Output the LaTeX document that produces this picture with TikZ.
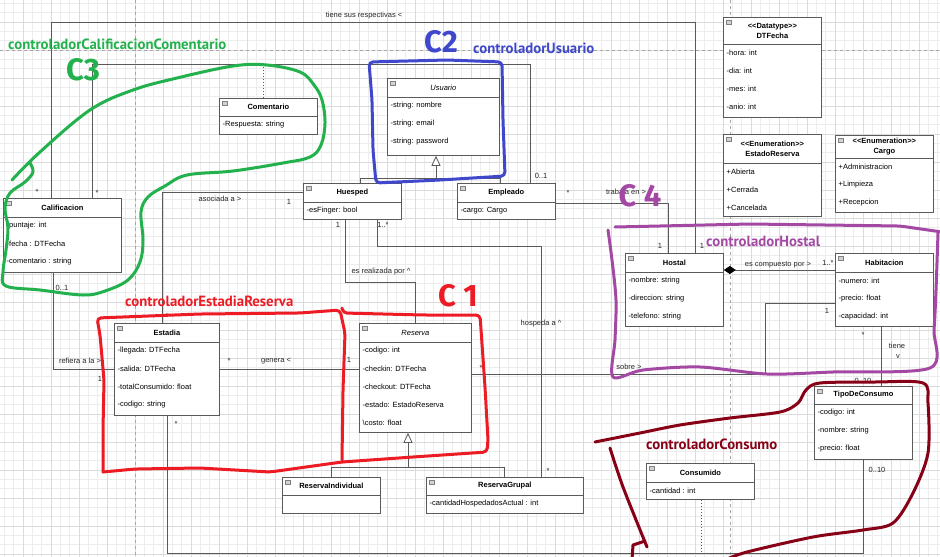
\documentclass[tikz,border=0pt]{standalone}
\usepackage{fontspec}
\setmainfont{Liberation Sans}
\newfontfamily\paintfont{PT Sans}
\newfontfamily\handfont{Fira Sans}
\usetikzlibrary{arrows.meta}
\definecolor{umlgray}{HTML}{5A5A5A}
\definecolor{paintgreen}{HTML}{22B14C}
\definecolor{paintblue}{HTML}{3F48CC}
\definecolor{paintred}{HTML}{ED1C24}
\definecolor{paintpurple}{HTML}{A349A4}
\definecolor{paintmaroon}{HTML}{880015}

% class box: name, x, y, width, header height, height, title, attributes
\newcommand{\umlclass}[8]{%
  \node[classbox,minimum width=#4pt,minimum height=#6pt] (#1) at (#2,#3) {};
  \draw[assoc] ([yshift=-#5pt]#1.north west) -- ([yshift=-#5pt]#1.north east);
  \node[boxicon] at ([xshift=5.5pt,yshift=-5.5pt]#1.north west) {};
  \node[classtitle] at ([yshift={-0.5*#5pt}]#1.north) {#7};
  \foreach \attr [count=\k] in {#8} {%
    \node[attr] at ([xshift=3.5pt,yshift={-(#5+18*\k-9)*1pt}]#1.north west) {\attr};}%
}

\begin{document}
\begin{tikzpicture}[x=1pt,y=-1pt,
    classbox/.style={draw=umlgray,fill=white,line width=0.8pt,rectangle,anchor=north west,inner sep=0pt},
    boxicon/.style={draw=gray,fill=gray!35,line width=0.4pt,minimum width=5pt,minimum height=4pt,inner sep=0pt},
    classtitle/.style={font=\fontsize{7.5}{10}\selectfont,align=center,inner sep=0pt},
    attr/.style={font=\fontsize{7.5}{9}\selectfont,anchor=west,inner sep=0pt},
    lbl/.style={font=\fontsize{7.5}{9}\selectfont,inner sep=0pt,text=black!85},
    assoc/.style={draw=umlgray,line width=0.8pt},
    gen/.style={assoc,-{Triangle[length=10pt,width=9pt,fill=white]}},
    dotline/.style={draw=umlgray,line width=0.6pt,dash pattern=on 1.5pt off 1.5pt},
    gridminor/.style={draw=black!7,line width=0.5pt},
    gridmajor/.style={draw=black!14,line width=0.5pt},
    pagebreak/.style={draw=black!35,line width=0.6pt,dash pattern=on 3pt off 3pt},
    freehand/.style={line width=3pt,line cap=round,line join=round},
    ctrllabel/.style={font=\paintfont\bfseries\fontsize{14.8}{15}\selectfont,inner sep=0pt,anchor=west},
    handlabel/.style={font=\handfont\bfseries\fontsize{31}{31}\selectfont,inner sep=0pt}]

  \useasboundingbox (0,0) rectangle (940,557);
  \fill[white] (0,0) rectangle (940,557);

  % background grid and page breaks
  \foreach \gi in {0,...,101} \draw[gridminor] ({-5+\gi*28/3},0) -- ({-5+\gi*28/3},557);
  \foreach \gi in {0,...,60} \draw[gridminor] (0,{-6+\gi*28/3}) -- (940,{-6+\gi*28/3});
  \foreach \gi in {0,...,34} \draw[gridmajor] ({-5+28*\gi},0) -- ({-5+28*\gi},557);
  \foreach \gi in {0,...,20} \draw[gridmajor] (0,{-6+28*\gi}) -- (940,{-6+28*\gi});
  \draw[pagebreak] (135,0) -- (135,557);
  \draw[pagebreak] (730,0) -- (730,557);
  \draw[pagebreak] (0,50) -- (940,50);

  % classes
  \umlclass{usuario}{387}{78}{112}{19}{77}{\itshape Usuario}{-string: nombre,-string: email,-string: password}
  \umlclass{huesped}{303}{183}{98}{19}{36}{\textbf{Huesped}}{-esFinger: bool}
  \umlclass{empleado}{457}{183}{98}{19}{36}{\textbf{Empleado}}{-cargo: Cargo}
  \umlclass{comentario}{219}{98}{98}{18}{36}{\textbf{Comentario}}{-Respuesta: string}
  \umlclass{calif}{3}{198}{118}{19}{74}{\textbf{Calificacion}}{-puntaje: int,-fecha : DTFecha,-comentario : string}
  \umlclass{estadia}{114}{323}{105}{19}{92}{\textbf{Estadia}}{-llegada: DTFecha,-salida: DTFecha,-totalConsumido: float,-codigo: string}
  \umlclass{reserva}{359}{323}{112}{19}{109}{\itshape Reserva}{-codigo: int,-checkin: DTFecha,-checkout: DTFecha,-estado: EstadoReserva,\textbackslash costo: float}
  \umlclass{rindiv}{282}{477}{98}{18}{36}{\textbf{ReservaIndividual}}{}
  \umlclass{rgrupal}{426}{477}{157}{18}{36}{\textbf{ReservaGrupal}}{-cantidadHospedadosActual : int}
  \umlclass{hostal}{625}{253}{98}{19}{73}{\textbf{Hostal}}{-nombre: string,-direccion: string,-telefono: string}
  \umlclass{habitacion}{835}{253}{98}{19}{73}{\textbf{Habitacion}}{-numero: int,-precio: float,-capacidad: int}
  \umlclass{tipo}{814}{386}{98}{18}{73}{\textbf{TipoDeConsumo}}{-codigo: int,-nombre: string,-precio: float}
  \umlclass{consumido}{646}{463}{108}{19}{36}{\textbf{Consumido}}{-cantidad : int}
  \umlclass{dtfecha}{723}{17}{98}{27}{100}{\textbf{<{}<Datatype>{}>}\\\textbf{DTFecha}}{-hora: int,-dia: int,-mes: int,-anio: int}
  \umlclass{estres}{723}{134}{98}{29}{82}{\textbf{<{}<Enumeration>{}>}\\\textbf{EstadoReserva}}{+Abierta,+Cerrada,+Cancelada}
  \umlclass{cargo}{835}{135}{98}{23}{77}{\textbf{<{}<Enumeration>{}>}\\\textbf{Cargo}}{+Administracion,+Limpieza,+Recepcion}

  % generalizations
  \coordinate (usr-join) at (436,178);
  \draw[assoc] (huesped.north -| 360,0) |- (usr-join);
  \draw[assoc] (empleado.north -| 500,0) |- (usr-join);
  \draw[gen] (usr-join) -- (usuario.south -| 436,0);
  \coordinate (res-join) at (408,467);
  \draw[assoc] (rindiv.north -| 331,0) |- (res-join);
  \draw[assoc] (rgrupal.north -| 504,0) |- (res-join);
  \draw[gen] (res-join) -- (reserva.south -| 408,0);

  % associations
  \draw[assoc] (calif.north -| 51,0) |- (695,22) -- (hostal.north -| 695,0);
  \draw[assoc] (calif.north -| 92,0) |- (530,64) -- (empleado.north -| 530,0);
  \coordinate (cmt-link) at (263,64);
  \draw[dotline] (comentario.north -| 263,0) -- (cmt-link);
  \draw[assoc] (empleado.east |- 0,203) -| (hostal.north -| 668,0);
  \draw[assoc] (huesped.west |- 0,192) -| (estadia.north -| 162,0);
  \draw[assoc] (huesped.south -| 345,0) |- (415,282) -- (reserva.north -| 415,0);
  \draw[assoc] (huesped.south -| 377,0) |- (541,246) -- (rgrupal.north -| 541,0);
  \draw[assoc] (calif.south -| 53,0) |- (estadia.west |- 0,369);
  \draw[assoc] (estadia.east |- 0,369) -- (reserva.west |- 0,369);
  \draw[assoc] (reserva.east |- 0,374) -| (765,303) -- (habitacion.west |- 0,303);
  \draw[assoc,{Diamond[length=12pt,width=8pt,fill=black,color=black]}-] (hostal.east |- 0,270) -- (habitacion.west |- 0,270);
  \draw[assoc] (habitacion.south -| 881,0) -- (tipo.north -| 881,0);
  \draw[assoc] (estadia.south -| 167,0) |- (863,553) -- (tipo.south -| 863,0);
  \coordinate (cons-link) at (701,553);
  \draw[dotline] (consumido.south -| 701,0) -- (cons-link);

  % connector labels
  \foreach \lx/\ly/\ltext in {364/16/tiene sus respectivas <, 37/192/*, 97/193/*, 702/246/1,
      541/176/0..1, 568/193/*, 626/193/trabaja en >, 660/246/1,
      220/199/asociada a >, 289/202/1, 167/316/*,
      338/225/1, 383/225/1..*, 381/272/es realizada por \textasciicircum, 541/324/hospeda a \textasciicircum, 548/471/*,
      62/288/0..1, 80/361/refiera a la >, 100/379/1,
      229/361/*, 276/361/genera <, 349/360/1,
      481/368/*, 629/367/sobre >, 827/311/1,
      778/265/es compuesto por >, 828/263/1..*,
      863/335/*, 897/346/tiene, 898/357/v, 863/381/0..10,
      176/424/*, 877/470/0..10}
    \node[lbl] at (\lx,\ly) {\ltext};

  % controller annotations
  \draw[freehand,paintgreen] plot[smooth,tension=0.6] coordinates {(12,180) (40,152) (90,110) (133,90) (177,78) (233,66) (267,65) (300,72) (314,85) (322,100) (325,123) (321,145) (310,157) (283,163) (233,171) (187,175) (165,186) (148,197) (141,212) (143,240) (140,262) (128,280) (105,291) (83,295) (40,290) (6,286) (3,272) (6,250) (8,228) (5,208) (10,193) (25,182) (33,172) (30,163)};
  \draw[freehand,paintblue,rounded corners=4pt] (369,62) -- (447,60) -- (502,62) -- (503,120) -- (505,176) -- (440,180) -- (376,183) -- (373,150) -- (372,100) -- cycle;
  \draw[freehand,paintred,rounded corners=4pt] (103,472) -- (103,430) -- (104,380) -- (100,335) -- (97,318) -- (200,314) -- (300,313) -- (340,310) -- (345,333) -- (343,390) -- (342,460);
  \draw[freehand,paintred,rounded corners=4pt] (342,308) -- (343,313) -- (423,315) -- (480,315) -- (485,387) -- (488,440) -- (487,452) -- (413,457) -- (342,462) -- (270,472) -- (200,468) -- (135,469) -- (103,472);
  \draw[freehand,paintpurple,rounded corners=4pt] (615,227) -- (750,224) -- (900,226) -- (942,232);
  \draw[freehand,paintpurple] plot[smooth,tension=0.5] coordinates {(608,230) (612,260) (616,300) (615,340) (613,377) (643,370) (700,367) (767,374) (833,372) (930,368) (934,330) (936,290) (938,233)};
  \draw[freehand,paintmaroon] plot[smooth,tension=0.5] coordinates {(595,442) (640,433) (680,425) (730,418) (780,412) (798,403) (806,390) (820,383) (875,382) (923,383) (928,403) (928,453) (913,493) (893,523) (863,530) (813,537) (747,552) (725,560)};
  \draw[freehand,paintmaroon] plot[smooth,tension=0.5] coordinates {(610,448) (623,487) (647,547)};
  \draw[freehand,paintmaroon] (645,541) -- (633,545) -- (632,560);

  \node[ctrllabel,text=paintgreen] (ctrl-calif) at (8,44) {controladorCalificacionComentario};
  \node[ctrllabel,text=paintblue] (ctrl-usr) at (473,48) {controladorUsuario};
  \node[ctrllabel,text=paintred] (ctrl-est) at (125,301) {controladorEstadiaReserva};
  \node[ctrllabel,text=paintpurple] (ctrl-hst) at (706,241) {controladorHostal};
  \node[ctrllabel,text=paintmaroon] (ctrl-cons) at (646,444) {controladorConsumo};

  \node[handlabel,text=paintgreen] (c-three) at (83,70) {C3};
  \node[handlabel,text=paintblue] (c-two) at (441,42) {C2};
  \node[handlabel,text=paintred] (c-one) at (458,296) {C 1};
  \node[handlabel,text=paintpurple] (c-four) at (640,196) {C 4};
\end{tikzpicture}
\end{document}
